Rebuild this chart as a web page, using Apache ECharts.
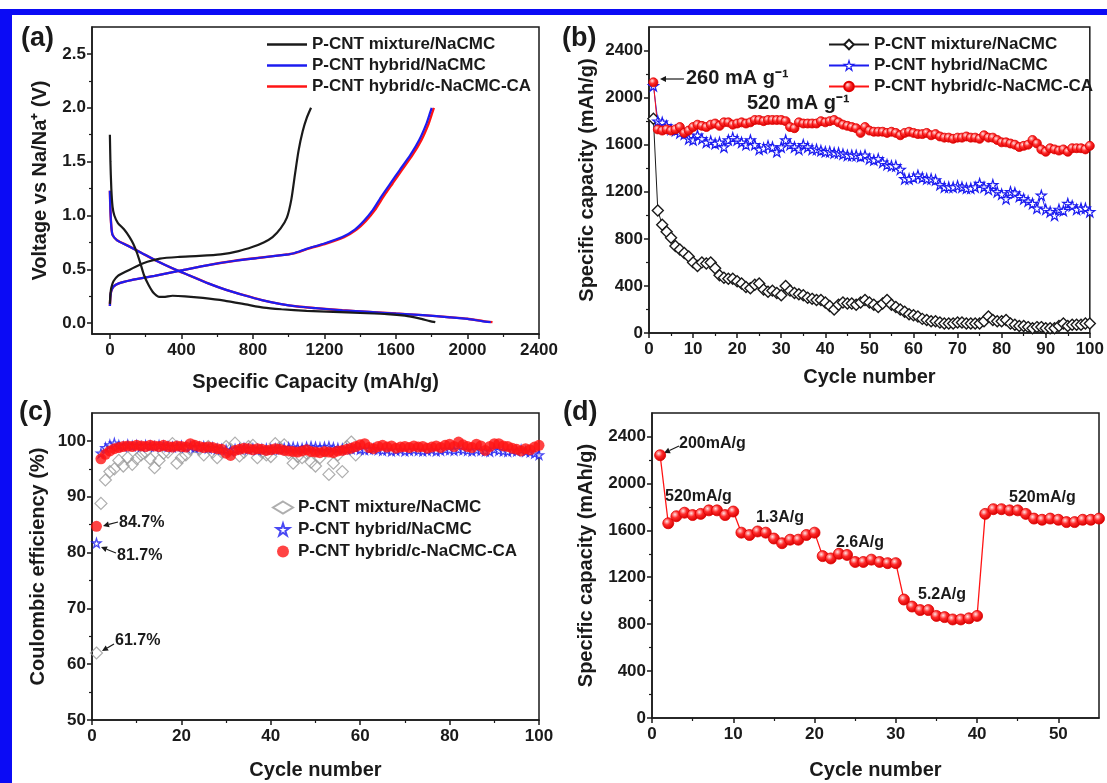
<!DOCTYPE html>
<html>
<head>
<meta charset="utf-8">
<script src="https://cdn.jsdelivr.net/npm/echarts@6/dist/echarts.min.js"></script>
<style>
  html, body { margin: 0; padding: 0; background: #fff; }
  #main { width: 1107px; height: 783px; }
</style>
</head>
<body>
<div id="main"></div>
<script>
// ---- panel (a): charge / discharge profiles, [capacity mAh/g, voltage V]
const mixtureDischarge = [[0,1.75],[3,1.5],[8,1.25],[15,1.08],[25,1.0],[45,0.93],[80,0.87],[110,0.8],[130,0.74],[150,0.66],[170,0.56],[190,0.45],[215,0.36],[245,0.28],[275,0.245],[300,0.245],[350,0.255],[420,0.25],[520,0.235],[640,0.21],[760,0.175],[860,0.145],[960,0.13],[1100,0.115],[1250,0.105],[1400,0.095],[1550,0.085],[1650,0.07],[1730,0.045],[1790,0.02],[1820,0.01]];
const mixtureCharge = [[0,0.18],[3,0.27],[8,0.33],[20,0.39],[45,0.44],[90,0.48],[150,0.53],[210,0.57],[280,0.6],[380,0.615],[500,0.625],[620,0.64],[720,0.67],[800,0.71],[860,0.75],[910,0.8],[955,0.88],[990,0.98],[1015,1.15],[1035,1.38],[1055,1.6],[1078,1.78],[1102,1.91],[1125,2.0]];
const hybridDischarge = [[0,1.23],[3,1.05],[8,0.9],[15,0.82],[40,0.77],[100,0.72],[180,0.65],[260,0.58],[350,0.51],[450,0.44],[550,0.37],[650,0.31],[750,0.26],[850,0.215],[950,0.18],[1050,0.155],[1150,0.14],[1300,0.12],[1450,0.105],[1600,0.09],[1750,0.075],[1900,0.055],[2000,0.04],[2080,0.02],[2130,0.01]];
const hybridCharge = [[0,0.16],[3,0.25],[8,0.3],[20,0.34],[50,0.37],[120,0.4],[250,0.44],[400,0.49],[550,0.54],[700,0.58],[850,0.61],[1000,0.64],[1030,0.65],[1100,0.69],[1200,0.74],[1300,0.8],[1370,0.87],[1420,0.95],[1470,1.05],[1520,1.18],[1570,1.3],[1620,1.42],[1680,1.56],[1730,1.7],[1770,1.85],[1790,1.95],[1800,2.0]];
const caDischarge = [[0,1.23],[3,1.05],[8,0.9],[15,0.82],[40,0.77],[100,0.72],[180,0.65],[260,0.58],[350,0.51],[450,0.44],[550,0.37],[650,0.31],[750,0.26],[850,0.215],[950,0.18],[1050,0.155],[1150,0.14],[1300,0.12],[1450,0.105],[1600,0.09],[1750,0.075],[1900,0.056],[2000,0.042],[2090,0.02],[2140,0.01]];
const caCharge = [[0,0.16],[3,0.25],[8,0.3],[20,0.34],[50,0.37],[120,0.4],[250,0.44],[400,0.49],[550,0.54],[700,0.58],[850,0.61],[1000,0.64],[1035,0.65],[1105,0.69],[1210,0.74],[1310,0.8],[1380,0.87],[1432,0.95],[1482,1.05],[1532,1.18],[1582,1.3],[1632,1.42],[1692,1.56],[1742,1.7],[1782,1.85],[1802,1.95],[1812,2.0]];

// ---- panel (b): cycling at 520 mA/g, capacity per cycle (cycle 1..100)
const bMixture = [1820,1040,920,860,810,740,710,680,650,600,
  570,600,590,600,550,490,470,460,460,440,
  420,390,380,410,420,370,350,360,340,320,
  400,360,340,330,320,300,290,280,280,260,
  230,200,240,260,250,250,240,260,280,260,
  240,220,250,280,240,220,200,180,160,150,
  140,120,110,100,100,90,80,80,80,90,
  90,80,80,80,80,100,140,110,100,100,
  110,80,70,60,60,50,40,50,50,40,
  40,40,60,80,60,70,70,70,80,80];
const bHybrid = [2100,1800,1790,1760,1730,1720,1700,1690,1650,1640,
  1680,1650,1620,1630,1610,1620,1580,1640,1660,1640,
  1620,1600,1640,1600,1560,1570,1590,1580,1540,1580,
  1640,1600,1580,1560,1600,1580,1560,1560,1550,1540,
  1540,1530,1530,1520,1510,1510,1510,1500,1510,1480,
  1470,1480,1450,1430,1420,1420,1390,1310,1310,1320,
  1340,1320,1310,1310,1300,1260,1240,1240,1240,1250,
  1240,1230,1230,1240,1270,1240,1220,1260,1200,1180,
  1140,1200,1190,1160,1140,1120,1100,1060,1170,1050,
  1030,1000,1050,1040,1100,1080,1050,1060,1060,1030];
const bHybridCA = [2130,1730,1720,1730,1720,1730,1750,1700,1720,1750,
  1770,1760,1750,1770,1780,1760,1790,1790,1770,1780,
  1790,1780,1790,1810,1810,1800,1810,1810,1810,1810,
  1800,1750,1740,1790,1780,1780,1780,1780,1800,1790,
  1800,1810,1790,1770,1760,1750,1740,1700,1750,1720,
  1710,1710,1710,1700,1710,1700,1680,1700,1710,1700,
  1690,1690,1700,1680,1690,1670,1660,1660,1650,1660,
  1660,1670,1660,1660,1650,1680,1660,1660,1640,1620,
  1620,1610,1600,1580,1590,1600,1640,1610,1560,1540,
  1570,1560,1550,1560,1540,1570,1570,1570,1560,1590];

// ---- panel (c): coulombic efficiency % (cycle 1..n)
const cMixture = [62,88.8,93,94.5,95,96.5,95.5,97,95.8,96.8,
  97.5,98,96.8,95.2,96.5,97.8,98,99.5,96,97,
  97.5,98.5,99,98.5,97.5,99,98,97,98,99,
  98.5,99.6,97.3,98,99,99.2,97,98,97.5,97.2,
  99.5,98.8,99.3,97.8,96,97.2,97,97.8,96.2,95.5,
  97,98.2,94,96,97.5,94.5,99,99.8,97.5];
const cHybrid = [81.7,97.8,98.8,99.3,99.6,99.2,99,99.3,99.1,99.2,
  99,99.2,99.1,99,99.2,99.1,99,98.9,99,99.1,
  98.9,99,98.8,98.9,99,98.7,98.8,98.6,98.5,98.4,
  98.2,98.5,98.6,98.7,98.5,98.6,98.4,98.5,98.6,98.5,
  98.6,98.5,98.7,98.8,98.9,98.8,98.7,98.9,99,98.9,
  98.8,98.9,99,98.8,98.7,98.6,98.5,98.6,98.7,98.5,
  98.4,98.5,98.6,98.4,98.3,98.4,98.2,98.3,98.4,98.2,
  98.3,98.4,98.3,98.2,98.3,98.4,98.2,98.3,98.5,98.4,
  98.3,98.5,98.4,98.3,98.2,98.4,98.3,98.2,98.1,98.5,
  98.3,98.2,98.1,98.3,98.2,98.4,98.1,98,97.8,97.5];
const cHybridCA = [84.7,96.8,97.6,98.2,98.6,98.8,99,99.1,99,99.2,
  99.1,99,99.2,99.1,99,99.2,99,98.9,99.1,99,
  98.9,99.5,99.2,99,98.8,98.9,98.8,98.6,98.5,97.8,
  97.4,98.3,98.5,98.7,98.6,98.4,98.6,98.5,98.3,98.4,
  98.6,98.5,98.3,98.2,98.1,98,98.2,98.4,98.1,98,
  97.9,98.1,98,97.9,98.2,98.3,98.5,98.7,99,99.3,
  99.5,98.8,98.6,99,99.2,98.9,99.1,98.7,98.9,99,
  98.8,99.1,98.9,99,98.7,98.9,99.1,98.8,99.2,99.4,
  99,99.8,99.3,99,98.8,99.4,99.1,98.3,99,99.5,
  99.5,99.1,99,98.7,98.5,98.2,98.6,98.4,98.9,99.2];

// ---- panel (d): rate capability (cycle 1..55)
const dRate = [2240,1660,1720,1750,1730,1740,1770,1770,1730,1760,
  1580,1560,1590,1580,1530,1490,1520,1520,1560,1580,
  1380,1360,1400,1390,1330,1330,1350,1330,1320,1320,
  1010,950,920,920,870,860,840,840,850,870,
  1740,1780,1780,1770,1770,1740,1700,1690,1700,1690,
  1670,1670,1690,1690,1700];

// ---- tick values
const aXTicks = [0,400,800,1200,1600,2000,2400];
const aXMinor = [200,600,1000,1400,1800,2200];
const aYTicks = [0,0.5,1,1.5,2,2.5];
const aYMinor = [0.25,0.75,1.25,1.75,2.25];
const bXTicks = [0,10,20,30,40,50,60,70,80,90,100];
const bXMinor = [5,15,25,35,45,55,65,75,85,95];
const capTicks = [0,400,800,1200,1600,2000,2400];
const capMinor = [200,600,1000,1400,1800,2200];
const cXTicks = [0,20,40,60,80,100];
const cXMinor = [10,30,50,70,90];
const cYTicks = [50,60,70,80,90,100];
const cYMinor = [55,65,75,85,95];
const dXTicks = [0,10,20,30,40,50];
const dXMinor = [5,15,25,35,45];

const names = ['P-CNT mixture/NaCMC', 'P-CNT hybrid/NaCMC', 'P-CNT hybrid/c-NaCMC-CA'];
// zero-width suffixes keep legend icons per panel
const namesB = names.map(n => n + '\u200b');
const namesC = names.map(n => n + '\u200b\u200b');

const FONT = '"Liberation Sans", Arial, sans-serif';
const INK = '#1a1a1a';
const BLUE = '#1c1cf0';
const RED = '#ff1414';

const withCycle = arr => arr.map((v, i) => [i + 1, v]);

const sphere = {
  type: 'radial', x: 0.38, y: 0.35, r: 0.65,
  colorStops: [
    { offset: 0, color: '#ffe4e4' },
    { offset: 0.45, color: '#ff2a2a' },
    { offset: 1, color: '#d40000' }
  ]
};
const STAR = 'path://M50,0 L61,35 L98,35 L68,57 L79,91 L50,70 L21,91 L32,57 L2,35 L39,35 Z';
const LINE_ICON = 'path://M0,0 L40,0 L40,2.4 L0,2.4 Z';

function mainAxis(dim, grid, min, max, ticks, name, gap, fmt) {
  return {
    type: 'value', gridIndex: grid, min: min, max: max,
    position: dim === 'x' ? 'bottom' : 'left',
    name: name, nameLocation: 'middle', nameGap: gap,
    nameTextStyle: { fontSize: 20, fontWeight: 'bold', fontFamily: FONT, color: INK },
    axisLine: { show: true, onZero: false, lineStyle: { color: INK, width: 1.5 } },
    axisTick: { show: true, customValues: ticks, length: 5, lineStyle: { color: INK, width: 1.5 } },
    axisLabel: {
      customValues: ticks, margin: dim === 'x' ? 8 : 6,
      fontSize: 17, fontWeight: 'bold', fontFamily: FONT, color: INK,
      formatter: fmt || (v => String(v))
    },
    splitLine: { show: false }
  };
}

function minorAxis(dim, grid, min, max, ticks) {
  return {
    type: 'value', gridIndex: grid, min: min, max: max,
    position: dim === 'x' ? 'bottom' : 'left',
    axisLine: { show: false, onZero: false },
    axisTick: { show: true, customValues: ticks, length: 3, lineStyle: { color: INK, width: 1.2 } },
    axisLabel: { show: false },
    splitLine: { show: false }
  };
}

const legendText = { fontSize: 17, fontWeight: 'bold', fontFamily: FONT, color: INK };

function arrow(x1, y1, x2, y2) {
  const a = Math.atan2(y2 - y1, x2 - x1);
  const L = 6, W = 3;
  const bx = x2 - L * Math.cos(a), by = y2 - L * Math.sin(a);
  return [
    { type: 'line', shape: { x1: x1, y1: y1, x2: bx, y2: by }, style: { stroke: INK, lineWidth: 1.2 } },
    { type: 'polygon', shape: { points: [[x2, y2],
        [bx + W * Math.sin(a), by - W * Math.cos(a)],
        [bx - W * Math.sin(a), by + W * Math.cos(a)]] }, style: { fill: INK } }
  ];
}

function label(text, x, y, size) {
  return { type: 'text', x: x, y: y, style: { text: text, fill: INK, font: 'bold ' + size + 'px ' + FONT, verticalAlign: 'middle' } };
}

const chart = echarts.init(document.getElementById('main'), null, { renderer: 'canvas' });

const option = {
  animation: false,
  backgroundColor: '#fff',
  grid: [
    { left: 92, top: 27, width: 447, height: 307 },
    { left: 649, top: 27, width: 450, height: 306 },
    { left: 92, top: 413, width: 447, height: 307 },
    { left: 652, top: 413, width: 447, height: 305 }
  ].map(g => Object.assign(g, { show: true, borderColor: INK, borderWidth: 1.5, backgroundColor: 'transparent' })),
  xAxis: [
    mainAxis('x', 0, -100, 2400, aXTicks, 'Specific Capacity (mAh/g)', 38),
    mainAxis('x', 1, 0, 100, bXTicks, 'Cycle number', 34),
    mainAxis('x', 2, 0, 100, cXTicks, 'Cycle number', 40),
    mainAxis('x', 3, 0, 55, dXTicks, 'Cycle number', 42),
    minorAxis('x', 0, -100, 2400, aXMinor),
    minorAxis('x', 1, 0, 100, bXMinor),
    minorAxis('x', 2, 0, 100, cXMinor),
    minorAxis('x', 3, 0, 55, dXMinor)
  ],
  yAxis: [
    mainAxis('y', 0, -0.1, 2.75, aYTicks, 'Voltage vs Na/Na\u207A (V)', 42, v => v.toFixed(1)),
    mainAxis('y', 1, 0, 2600, capTicks, 'Specific capacity (mAh/g)', 52),
    mainAxis('y', 2, 50, 105, cYTicks, 'Coulombic efficiency (%)', 44),
    mainAxis('y', 3, 0, 2600, capTicks, 'Specific capacity (mAh/g)', 56),
    minorAxis('y', 0, -0.1, 2.75, aYMinor),
    minorAxis('y', 1, 0, 2600, capMinor),
    minorAxis('y', 2, 50, 105, cYMinor),
    minorAxis('y', 3, 0, 2600, capMinor)
  ],
  legend: [
    { left: 262, top: 31, orient: 'vertical', itemWidth: 40, itemHeight: 12, itemGap: 4,
      textStyle: legendText, selectedMode: false,
      data: names.map(n => ({ name: n, icon: LINE_ICON })) },
    { left: 823, top: 31, orient: 'vertical', itemWidth: 40, itemHeight: 12, itemGap: 4,
      textStyle: legendText, selectedMode: false,
      data: [
        namesB[0],
        { name: namesB[1], itemStyle: { color: '#fff', borderColor: BLUE, borderWidth: 1.2 } },
        namesB[2]
      ] },
    { left: 267, top: 494, orient: 'vertical', itemWidth: 20, itemHeight: 12, itemGap: 5,
      textStyle: legendText, data: namesC, selectedMode: false }
  ],
  series: [
    // (a)
    { name: names[2], type: 'line', xAxisIndex: 0, yAxisIndex: 0, data: caDischarge, symbol: 'none', smooth: 0.2,
      lineStyle: { color: RED, width: 2.4 }, itemStyle: { color: RED } },
    { name: names[2], type: 'line', xAxisIndex: 0, yAxisIndex: 0, data: caCharge, symbol: 'none', smooth: 0.2,
      lineStyle: { color: RED, width: 2.4 }, itemStyle: { color: RED } },
    { name: names[1], type: 'line', xAxisIndex: 0, yAxisIndex: 0, data: hybridDischarge, symbol: 'none', smooth: 0.2,
      lineStyle: { color: BLUE, width: 2.2 }, itemStyle: { color: BLUE } },
    { name: names[1], type: 'line', xAxisIndex: 0, yAxisIndex: 0, data: hybridCharge, symbol: 'none', smooth: 0.2,
      lineStyle: { color: BLUE, width: 2.2 }, itemStyle: { color: BLUE } },
    { name: names[0], type: 'line', xAxisIndex: 0, yAxisIndex: 0, data: mixtureDischarge, symbol: 'none', smooth: 0.2,
      lineStyle: { color: INK, width: 2.2 }, itemStyle: { color: INK } },
    { name: names[0], type: 'line', xAxisIndex: 0, yAxisIndex: 0, data: mixtureCharge, symbol: 'none', smooth: 0.2,
      lineStyle: { color: INK, width: 2.2 }, itemStyle: { color: INK } },
    // (b)
    { name: namesB[0], type: 'line', xAxisIndex: 1, yAxisIndex: 1, data: withCycle(bMixture),
      symbol: 'diamond', symbolSize: 11, lineStyle: { color: INK, width: 1 },
      itemStyle: { color: '#fff', borderColor: INK, borderWidth: 1.4 } },
    { name: namesB[1], type: 'line', xAxisIndex: 1, yAxisIndex: 1, data: withCycle(bHybrid),
      symbol: STAR, symbolSize: 10, lineStyle: { color: BLUE, width: 1 },
      itemStyle: { color: '#fff', borderColor: BLUE, borderWidth: 1.2 } },
    { name: namesB[2], type: 'line', xAxisIndex: 1, yAxisIndex: 1, data: withCycle(bHybridCA),
      symbol: 'circle', symbolSize: 9, lineStyle: { color: RED, width: 1 },
      itemStyle: { color: sphere, borderColor: '#e00000', borderWidth: 0.8 } },
    // (c)
    { name: namesC[0], type: 'scatter', xAxisIndex: 2, yAxisIndex: 2, data: withCycle(cMixture),
      symbol: 'diamond', symbolSize: 12,
      itemStyle: { color: 'rgba(255,255,255,0)', borderColor: '#9a9a9a', borderWidth: 1.2 } },
    { name: namesC[1], type: 'scatter', xAxisIndex: 2, yAxisIndex: 2, data: withCycle(cHybrid),
      symbol: STAR, symbolSize: 9,
      itemStyle: { color: '#fff', borderColor: BLUE, borderWidth: 1.3 } },
    { name: namesC[2], type: 'scatter', xAxisIndex: 2, yAxisIndex: 2, data: withCycle(cHybridCA),
      symbol: 'circle', symbolSize: 11,
      itemStyle: { color: RED } },
    // (d)
    { name: 'rate', type: 'line', xAxisIndex: 3, yAxisIndex: 3, data: withCycle(dRate),
      symbol: 'circle', symbolSize: 11, lineStyle: { color: RED, width: 1.3 },
      itemStyle: { color: sphere, borderColor: '#e00000', borderWidth: 0.8 } }
  ],
  graphic: [
    // blue frame
    { type: 'rect', shape: { x: 0, y: 9, width: 1107, height: 6 }, style: { fill: '#0b0bf5' }, z: 100 },
    { type: 'rect', shape: { x: 0, y: 9, width: 12, height: 774 }, style: { fill: '#0b0bf5' }, z: 100 },
    // panel letters
    label('(a)', 21, 39, 27), label('(b)', 562, 39, 27),
    label('(c)', 19, 413, 27), label('(d)', 563, 413, 27),
    // (b) annotations
    ...arrow(684, 79, 660, 79),
    label('260 mA g\u207B\u00B9', 686, 78, 20),
    label('520 mA g\u207B\u00B9', 747, 103, 20),
    // (c) annotations
    ...arrow(118, 522, 103, 526),
    label('84.7%', 119, 523, 16),
    ...arrow(116, 553, 101, 547),
    label('81.7%', 117, 556, 16),
    ...arrow(114, 644, 102, 651),
    label('61.7%', 115, 641, 16),
    // (d) annotations
    ...arrow(679, 446, 664, 453),
    label('200mA/g', 679, 444, 16),
    label('520mA/g', 665, 497, 16),
    label('1.3A/g', 756, 518, 16),
    label('2.6A/g', 836, 543, 16),
    label('5.2A/g', 918, 595, 16),
    label('520mA/g', 1009, 498, 16)
  ]
};

chart.setOption(option);
</script>
</body>
</html>
